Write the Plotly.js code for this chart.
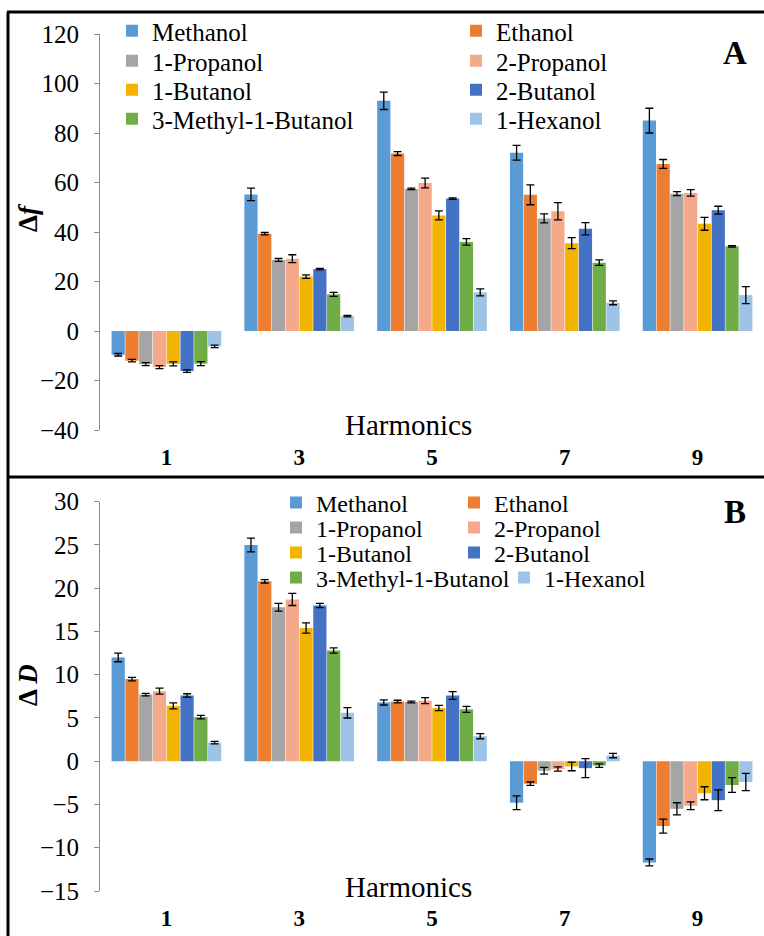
<!DOCTYPE html>
<html><head><meta charset="utf-8">
<script src="https://cdn.plot.ly/plotly-3.0.1.min.js"></script>
<style>html,body{margin:0;padding:0;background:#fff}</style>
</head><body><div id="chart" style="width:764px;height:936px"></div>
<script>
// ---- data ----
const harmonics = ['1', '3', '5', '7', '9'];
const solvents = ['Methanol', 'Ethanol', '1-Propanol', '2-Propanol', '1-Butanol', '2-Butanol', '3-Methyl-1-Butanol', '1-Hexanol'];

// Panel A : Δf
const dfMethanol  = [-9.6, 55.2, 93.0, 72.0, 85.0];
const dfEthanol   = [-12.0, 39.3, 71.7, 55.0, 67.5];
const dfPropanol1 = [-13.4, 28.7, 57.4, 45.5, 55.5];
const dfPropanol2 = [-14.6, 29.2, 59.8, 48.4, 55.8];
const dfButanol1  = [-13.3, 22.0, 46.7, 35.5, 43.3];
const dfButanol2  = [-16.2, 25.0, 53.5, 41.3, 48.8];
const dfMethylBut = [-13.2, 14.8, 36.0, 27.6, 34.2];
const dfHexanol   = [-6.2, 6.0, 15.6, 11.4, 14.5];

const dfErrMethanol  = [0.5, 2.5, 3.5, 3.0, 5.0];
const dfErrEthanol   = [0.5, 0.5, 0.8, 4.0, 1.8];
const dfErrPropanol1 = [0.6, 0.6, 0.3, 1.8, 0.8];
const dfErrPropanol2 = [0.6, 1.6, 2.0, 3.5, 1.3];
const dfErrButanol1  = [0.8, 0.7, 1.8, 2.2, 2.6];
const dfErrButanol2  = [0.5, 0.3, 0.3, 2.5, 1.6];
const dfErrMethylBut = [0.8, 0.8, 1.3, 1.1, 0.3];
const dfErrHexanol   = [0.5, 0.3, 1.4, 0.8, 3.4];

// Panel B : ΔD
const dDMethanol  = [12.0, 25.0, 6.8, -4.8, -11.7];
const dDEthanol   = [9.5, 20.8, 6.9, -2.6, -7.5];
const dDPropanol1 = [7.7, 17.8, 6.85, -1.1, -5.5];
const dDPropanol2 = [8.1, 18.7, 7.0, -0.9, -5.15];
const dDButanol1  = [6.4, 15.4, 6.15, -0.6, -3.7];
const dDButanol2  = [7.6, 18.0, 7.6, -0.8, -4.5];
const dDMethylBut = [5.1, 12.8, 6.0, -0.5, -2.75];
const dDHexanol   = [2.15, 5.6, 2.9, 0.65, -2.4];

const dDErrMethanol  = [0.5, 0.8, 0.3, 0.8, 0.4];
const dDErrEthanol   = [0.2, 0.2, 0.15, 0.2, 0.8];
const dDErrPropanol1 = [0.15, 0.45, 0.1, 0.4, 0.7];
const dDErrPropanol2 = [0.35, 0.7, 0.35, 0.25, 0.45];
const dDErrButanol1  = [0.35, 0.6, 0.3, 0.5, 0.75];
const dDErrButanol2  = [0.2, 0.25, 0.45, 1.1, 1.2];
const dDErrMethylBut = [0.2, 0.3, 0.35, 0.2, 0.85];
const dDErrHexanol   = [0.15, 0.6, 0.3, 0.25, 1.0];

const colors = ['#5B9BD5', '#ED7D31', '#A5A5A5', '#F4A98A', '#F2B400', '#4472C4', '#70AD47', '#9DC3E6'];

const dfSeries = [dfMethanol, dfEthanol, dfPropanol1, dfPropanol2, dfButanol1, dfButanol2, dfMethylBut, dfHexanol];
const dfErrors = [dfErrMethanol, dfErrEthanol, dfErrPropanol1, dfErrPropanol2, dfErrButanol1, dfErrButanol2, dfErrMethylBut, dfErrHexanol];
const dDSeries = [dDMethanol, dDEthanol, dDPropanol1, dDPropanol2, dDButanol1, dDButanol2, dDMethylBut, dDHexanol];
const dDErrors = [dDErrMethanol, dDErrEthanol, dDErrPropanol1, dDErrPropanol2, dDErrButanol1, dDErrButanol2, dDErrMethylBut, dDErrHexanol];

// ---- geometry helpers (pixel -> paper) ----
const W = 764, H = 936;
const px = v => v / W;
const py = v => 1 - v / H;
const serif = '"Liberation Serif", "Times New Roman", Times, serif';

// legend entry placement (left edge of each legend box, row centre), pixels
const legendA = {x: [112, 456, 112, 456, 112, 456, 112, 456], y: [31, 31, 61, 61, 90, 90, 119, 119]};
const legendB = {x: [276, 454, 276, 454, 276, 454, 276, 504], y: [503, 503, 528, 528, 553, 553, 578, 578]};

const legendId = n => (n === 1 ? 'legend' : 'legend' + n);

const traces = [];
solvents.forEach((name, i) => {
  traces.push({
    type: 'bar', name: name, x: harmonics, y: dfSeries[i],
    xaxis: 'x', yaxis: 'y',
    marker: {color: colors[i], line: {width: 0}},
    error_y: {type: 'data', array: dfErrors[i], visible: true, color: '#000', thickness: 1.3, width: 4},
    legend: legendId(i + 1),
    hoverinfo: 'x+y+name'
  });
});
solvents.forEach((name, i) => {
  traces.push({
    type: 'bar', name: name, x: harmonics, y: dDSeries[i],
    xaxis: 'x3', yaxis: 'y3',
    marker: {color: colors[i], line: {width: 0}},
    error_y: {type: 'data', array: dDErrors[i], visible: true, color: '#000', thickness: 1.3, width: 4},
    legend: legendId(i + 9),
    hoverinfo: 'x+y+name'
  });
});

const axisGrey = '#8C8C8C';
const catAxis = (anchor) => ({
  domain: [px(100), 1], anchor: anchor, type: 'category',
  showline: false, showgrid: false, zeroline: false, ticks: '',
  tickfont: {family: serif, size: 23, color: '#000', weight: 'bold'},
  ticklabelstandoff: 11, automargin: false, fixedrange: true
});
const zeroTickAxis = (over, pos) => ({
  domain: [px(100), 1], overlaying: over, anchor: 'free', position: pos,
  type: 'linear', range: [-0.5, 4.5],
  showline: true, linecolor: axisGrey, linewidth: 1,
  ticks: 'outside', ticklen: 6, tickcolor: axisGrey, tickwidth: 1,
  tickvals: [0.5, 1.5, 2.5, 3.5, 4.5], showticklabels: false,
  showgrid: false, zeroline: false, automargin: false, fixedrange: true
});
const valAxis = (anchor, dom, range, dtick) => ({
  domain: dom, anchor: anchor, range: range, dtick: dtick, tick0: 0,
  showline: true, linecolor: axisGrey, linewidth: 1,
  ticks: 'outside', ticklen: 5, tickcolor: axisGrey,
  showgrid: false, zeroline: false,
  tickfont: {family: serif, size: 25, color: '#000'},
  ticklabelstandoff: 10, automargin: false, fixedrange: true
});

const legendBox = (x, y, size) => ({
  x: px(x), y: py(y), xanchor: 'left', yanchor: 'middle', orientation: 'v',
  bgcolor: 'rgba(0,0,0,0)', borderwidth: 0,
  font: {family: serif, size: size, color: '#000'},
  itemwidth: 30, itemclick: false, itemdoubleclick: false
});

const lineShape = (x0, y0, x1, y1, w) => ({
  type: 'line', xref: 'paper', yref: 'paper',
  x0: px(x0), y0: py(y0), x1: px(x1), y1: py(y1),
  line: {color: '#000', width: w}
});

const ann = (x, y, text, size, extra) => Object.assign({
  xref: 'paper', yref: 'paper', x: px(x), y: py(y), text: text,
  showarrow: false, xanchor: 'center', yanchor: 'middle',
  font: {family: serif, size: size, color: '#000'}
}, extra || {});

const layout = {
  width: W, height: H,
  margin: {l: 0, r: 0, t: 0, b: 0, pad: 0},
  paper_bgcolor: '#fff', plot_bgcolor: 'rgba(0,0,0,0)',
  barmode: 'group', bargap: 0.17, bargroupgap: 0.04,
  xaxis: catAxis('y'),
  xaxis2: zeroTickAxis('x', py(330)),
  yaxis: valAxis('x', [py(430), py(34)], [-40, 120], 20),
  xaxis3: catAxis('y3'),
  xaxis4: zeroTickAxis('x3', py(761)),
  yaxis3: valAxis('x3', [py(891), py(501.7)], [-15, 30], 5),
  shapes: [
    lineShape(8, 12, 8, 936, 3),
    lineShape(7, 12, 764, 12, 3),
    lineShape(7, 477, 764, 477, 3)
  ],
  annotations: [
    ann(735, 53, '<b>A</b>', 33),
    ann(735, 512, '<b>B</b>', 33),
    ann(408, 425, 'Harmonics', 29),
    ann(408, 887, 'Harmonics', 29),
    ann(28, 217, '<b>Δ<i>f</i></b>', 27, {textangle: -90}),
    ann(28, 685, '<b>Δ <i>D</i></b>', 27, {textangle: -90})
  ],
  showlegend: true
};
for (let i = 0; i < 8; i++) {
  layout[legendId(i + 1)] = legendBox(legendA.x[i], legendA.y[i], 25);
  layout[legendId(i + 9)] = legendBox(legendB.x[i], legendB.y[i], 24);
}

Plotly.newPlot('chart', traces, layout, {displayModeBar: false, staticPlot: true});
</script>
</body></html>
